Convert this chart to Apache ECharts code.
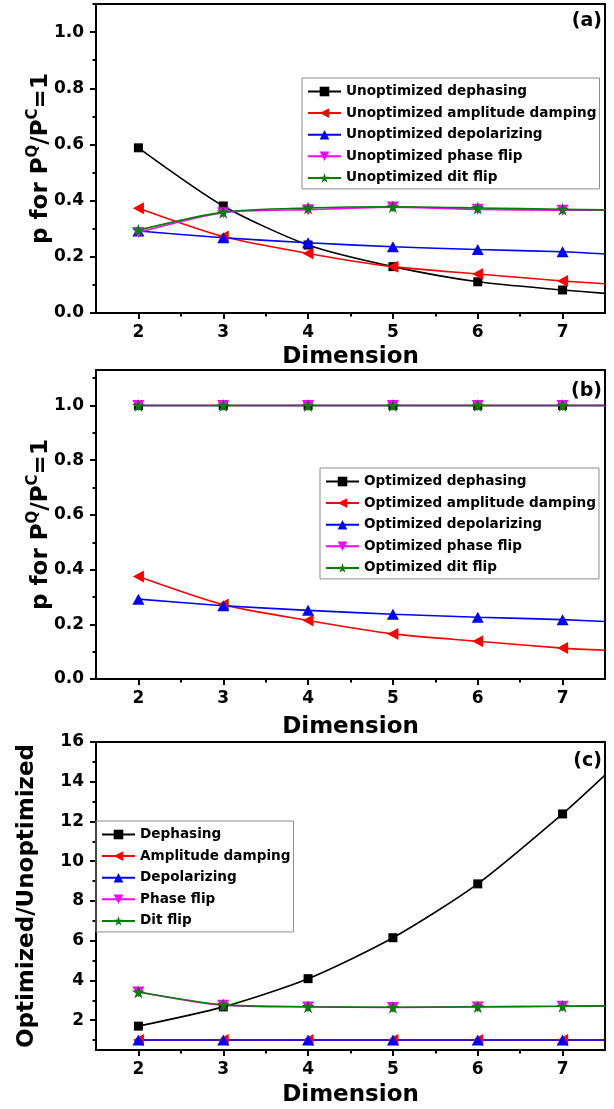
<!DOCTYPE html>
<html>
<head>
<meta charset="utf-8">
<script src="https://cdn.jsdelivr.net/npm/echarts@6.0.0/dist/echarts.min.js"></script>
<style>
html, body { margin: 0; padding: 0; background: #fff; }
#main { width: 614px; height: 1109px; }
</style>
</head>
<body>
<div id="main"></div>
<script>
// x positions: measured points 2..7, last value is where the curve meets the right frame (7.5)
const dims = [2, 3, 4, 5, 6, 7, 7.5];
const xMajor = [2, 3, 4, 5, 6, 7];
const xMinor = [2.5, 3.5, 4.5, 5.5, 6.5];

// (a) unoptimized
const unoptDephasing = [0.588, 0.381, 0.242, 0.165, 0.111, 0.082, 0.070];
const unoptAmpDamping = [0.373, 0.272, 0.212, 0.165, 0.139, 0.114, 0.104];
const unoptDepolarizing = [0.292, 0.268, 0.250, 0.236, 0.226, 0.218, 0.210];
const unoptPhaseFlip = [0.287, 0.357, 0.368, 0.377, 0.369, 0.366, 0.366];
const unoptDitFlip = [0.295, 0.359, 0.374, 0.378, 0.374, 0.369, 0.367];

// (b) optimized
const optDephasing = [1, 1, 1, 1, 1, 1, 1];
const optAmpDamping = [0.375, 0.272, 0.214, 0.165, 0.138, 0.113, 0.105];
const optDepolarizing = [0.292, 0.268, 0.251, 0.237, 0.226, 0.217, 0.210];
const optPhaseFlip = [1, 1, 1, 1, 1, 1, 1];
const optDitFlip = [1, 1, 1, 1, 1, 1, 1];

// (c) ratio
const ratioDephasing = [1.70, 2.67, 4.09, 6.15, 8.86, 12.38, 14.33];
const ratioAmpDamping = [1, 1, 1, 1, 1, 1, 1];
const ratioDepolarizing = [1, 1, 1, 1, 1, 1, 1];
const ratioPhaseFlip = [3.42, 2.75, 2.67, 2.64, 2.67, 2.70, 2.72];
const ratioDitFlip = [3.42, 2.77, 2.68, 2.65, 2.68, 2.70, 2.72];

const pMajor = [0, 0.2, 0.4, 0.6, 0.8, 1.0];
const pMinor = [0.1, 0.3, 0.5, 0.7, 0.9, 1.1];
const rMajor = [2, 4, 6, 8, 10, 12, 14, 16];
const rMinor = [1, 3, 5, 7, 9, 11, 13, 15];

const FONT = 'DejaVu Sans';
const leftTri = 'path://M0,5L10,0L10,10Z';
const downTri = 'path://M0,0L10,0L5,10Z';
const star = 'path://M5,0L6.2,3.6L10,3.6L6.9,5.9L8.1,9.5L5,7.3L1.9,9.5L3.1,5.9L0,3.6L3.8,3.6Z';

const styles = [
  { color: '#000000', symbol: 'rect', size: 9 },
  { color: '#ff0000', symbol: leftTri, size: [11, 12] },
  { color: '#0000ff', symbol: 'triangle', size: [12, 11] },
  { color: '#ff00ff', symbol: downTri, size: [12, 11] },
  { color: '#008000', symbol: star, size: 13 }
];

function makeSeries(name, vals, g, k) {
  const s = styles[k];
  return {
    name: name,
    type: 'line',
    xAxisIndex: 2 * g,
    yAxisIndex: 2 * g,
    smooth: 0.25,
    symbol: s.symbol,
    symbolSize: s.size,
    itemStyle: { color: s.color },
    lineStyle: { color: s.color, width: 1.6 },
    data: dims.map((d, i) => i === dims.length - 1
      ? { value: [d, vals[i]], symbol: 'none' }
      : [d, vals[i]])
  };
}

function xAxes(g, gap) {
  return [{
    gridIndex: g, type: 'value', min: 1.5, max: 7.5, position: 'bottom',
    axisLine: { lineStyle: { color: '#000', width: 2 } },
    axisTick: { customValues: xMajor, length: 6, lineStyle: { width: 2, color: '#000' } },
    axisLabel: { customValues: xMajor, margin: 11, color: '#000', fontFamily: FONT, fontWeight: 'bold', fontSize: 17 },
    splitLine: { show: false },
    name: 'Dimension', nameLocation: 'middle', nameGap: gap,
    nameTextStyle: { color: '#000', fontFamily: FONT, fontWeight: 'bold', fontSize: 23 }
  }, {
    gridIndex: g, type: 'value', min: 1.5, max: 7.5, position: 'bottom',
    axisLine: { show: false },
    axisTick: { customValues: xMinor, length: 3.5, lineStyle: { width: 2, color: '#000' } },
    axisLabel: { show: false },
    splitLine: { show: false }
  }];
}

function yAxes(g, min, max, major, minor, name, gap, fmt, lh, moveOverlap) {
  return [{
    gridIndex: g, type: 'value', min: min, max: max, position: 'left',
    axisLine: { lineStyle: { color: '#000', width: 2 } },
    axisTick: { customValues: major, length: 6, lineStyle: { width: 2, color: '#000' } },
    axisLabel: { customValues: major, margin: 12, color: '#000', fontFamily: FONT, fontWeight: 'bold', fontSize: 17, formatter: fmt },
    splitLine: { show: false },
    name: name, nameLocation: 'middle', nameRotate: 90, nameGap: gap,
    nameMoveOverlap: moveOverlap,
    nameTextStyle: {
      color: '#000', fontFamily: FONT, fontWeight: 'bold', fontSize: 23, lineHeight: lh,
      rich: {
        sup: { fontFamily: FONT, fontWeight: 'bold', fontSize: 15, lineHeight: 16, color: '#000', verticalAlign: 'top' }
      }
    }
  }, {
    gridIndex: g, type: 'value', min: min, max: max, position: 'left',
    axisLine: { show: false },
    axisTick: { customValues: minor, length: 3.5, lineStyle: { width: 2, color: '#000' } },
    axisLabel: { show: false },
    splitLine: { show: false }
  }];
}

function legend(names, left, top) {
  return {
    data: names, orient: 'vertical', left: left, top: top,
    itemWidth: 33, itemHeight: 12, itemGap: 7.6,
    padding: [6.5, 3, 4, 5],
    borderColor: '#8c8c8c', borderWidth: 1,
    textStyle: { color: '#000', fontFamily: FONT, fontWeight: 'bold', fontSize: 13.6 }
  };
}

const namesA = ['Unoptimized dephasing', 'Unoptimized amplitude damping', 'Unoptimized depolarizing', 'Unoptimized phase flip', 'Unoptimized dit flip'];
const namesB = ['Optimized dephasing', 'Optimized amplitude damping', 'Optimized depolarizing', 'Optimized phase flip', 'Optimized dit flip'];
const namesC = ['Dephasing', 'Amplitude damping', 'Depolarizing', 'Phase flip', 'Dit flip'];

const valsA = [unoptDephasing, unoptAmpDamping, unoptDepolarizing, unoptPhaseFlip, unoptDitFlip];
const valsB = [optDephasing, optAmpDamping, optDepolarizing, optPhaseFlip, optDitFlip];
const valsC = [ratioDephasing, ratioAmpDamping, ratioDepolarizing, ratioPhaseFlip, ratioDitFlip];

let series = [];
namesA.forEach((n, k) => series.push(makeSeries(n, valsA[k], 0, k)));
namesB.forEach((n, k) => series.push(makeSeries(n, valsB[k], 1, k)));
namesC.forEach((n, k) => series.push(makeSeries(n, valsC[k], 2, k)));

const pName = 'p for P{sup|Q}/P{sup|C}=1';
const f1 = v => v.toFixed(1);
const f0 = v => String(v);

const panelTitle = (text, top) => ({
  text: text, right: 12, top: top, padding: 0,
  textStyle: { color: '#000', fontFamily: FONT, fontWeight: 'bold', fontSize: 19 }
});

let myChart = echarts.init(document.getElementById('main'));
let option = {
  animation: false,
  backgroundColor: '#fff',
  title: [panelTitle('(a)', 12), panelTitle('(b)', 382), panelTitle('(c)', 752)],
  grid: [
    { left: 96, top: 4, width: 509, height: 309, show: true, borderColor: '#000', borderWidth: 2 },
    { left: 96, top: 370, width: 509, height: 309, show: true, borderColor: '#000', borderWidth: 2 },
    { left: 96, top: 742, width: 509, height: 308, show: true, borderColor: '#000', borderWidth: 2 }
  ],
  xAxis: [].concat(xAxes(0, 33), xAxes(1, 37), xAxes(2, 34)),
  yAxis: [].concat(
    yAxes(0, 0, 1.1, pMajor, pMinor, pName, 40, f1, 30, false),
    yAxes(1, 0, 1.13, pMajor, pMinor, pName, 40, f1, 30, false),
    yAxes(2, 0.5, 16, rMajor, rMinor, 'Optimized/Unoptimized', 57, f0, 23, true)
  ),
  legend: [
    legend(namesA, 302, 78),
    legend(namesB, 320, 468),
    legend(namesC, 96, 821)
  ],
  series: series
};
option && myChart.setOption(option);
</script>
</body>
</html>
